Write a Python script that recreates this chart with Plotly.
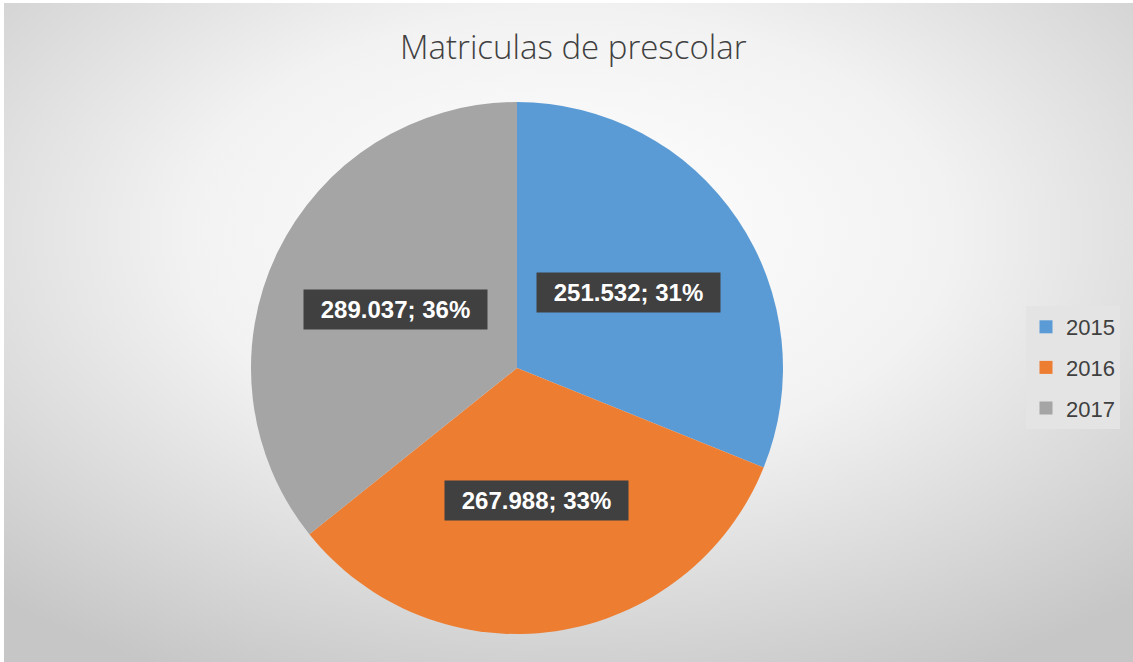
import math
import base64
import plotly.graph_objects as go

# ---- data ----
years = ["2015", "2016", "2017"]
values = [251532, 267988, 289037]
colors = ["#5B9BD5", "#ED7D31", "#A5A5A5"]
title_text = "Matriculas de prescolar"

W, H = 1133, 662
# pie geometry (pixels)
pcx, pcy, pr = 517, 368, 266

def fmt(v):
    return f"{v:,}".replace(",", ".")

total = sum(values)

svg = f"""<svg xmlns='http://www.w3.org/2000/svg' width='{W}' height='{H}' viewBox='0 0 {W} {H}' preserveAspectRatio='none'>
<defs><radialGradient id='g' cx='50%' cy='35%' r='75%' gradientUnits='objectBoundingBox'>
<stop offset='0' stop-color='#ffffff'/><stop offset='0.45' stop-color='#f2f2f2'/><stop offset='1' stop-color='#c6c6c6'/></radialGradient></defs>
<rect x='4' y='3' width='{W-4}' height='{H-3}' fill='url(#g)'/></svg>"""
src = "data:image/svg+xml;base64," + base64.b64encode(svg.encode()).decode()

fig = go.Figure()
fig.add_trace(go.Pie(
    labels=years, values=values, sort=False, direction="clockwise", rotation=0,
    marker=dict(colors=colors, line=dict(width=0)),
    textinfo="none", hoverinfo="label+value+percent", showlegend=False,
    domain=dict(x=[(pcx - pr) / W, (pcx + pr) / W],
                y=[(H - pcy - pr) / H, (H - pcy + pr) / H]),
))

# legend entries
for i, (yr, c) in enumerate(zip(years, colors)):
    fig.add_trace(go.Scatter(x=[None], y=[None], mode="markers", name=yr,
                             legendgroup=yr,
                             marker=dict(symbol="square", size=13, color=c)))

# data labels
cum = 0
annotations = []
for v in values:
    mid = (cum + v / 2) / total
    cum += v
    th = 2 * math.pi * mid
    d = 0.505 * pr
    px = pcx + d * math.sin(th)
    py = pcy - d * math.cos(th)
    annotations.append(dict(
        x=px / W, y=1 - py / H, xref="paper", yref="paper",
        xanchor="center", yanchor="middle",
        text=f"<b>{fmt(v)}; {round(100 * v / total)}%</b>",
        showarrow=False, bgcolor="#404040", borderpad=6, width=171,
        font=dict(family="Liberation Sans, Arial", size=24, color="#ffffff"),
    ))

fig.update_layout(
    width=W, height=H, margin=dict(l=0, r=0, t=0, b=0),
    paper_bgcolor="#ffffff", plot_bgcolor="rgba(0,0,0,0)",
    images=[dict(source=src, xref="paper", yref="paper", x=0, y=1,
                 sizex=1, sizey=1, sizing="stretch", layer="below")],
    xaxis=dict(visible=False), yaxis=dict(visible=False),
    title=dict(text=title_text, x=0.506, xanchor="center", y=1 - 47 / H, yanchor="middle",
               font=dict(family="Open Sans", size=33, color="#404040", weight=300)),
    legend=dict(x=1026 / W, y=1 - 306 / H, xanchor="left", yanchor="top",
                bgcolor="#e4e4e4", tracegroupgap=9, itemwidth=30,
                font=dict(family="Liberation Sans, Arial", size=22, color="#404040")),
    annotations=annotations,
)

fig.write_html("out.html", config={"displayModeBar": False},
               post_script="document.body.style.margin='0';")
